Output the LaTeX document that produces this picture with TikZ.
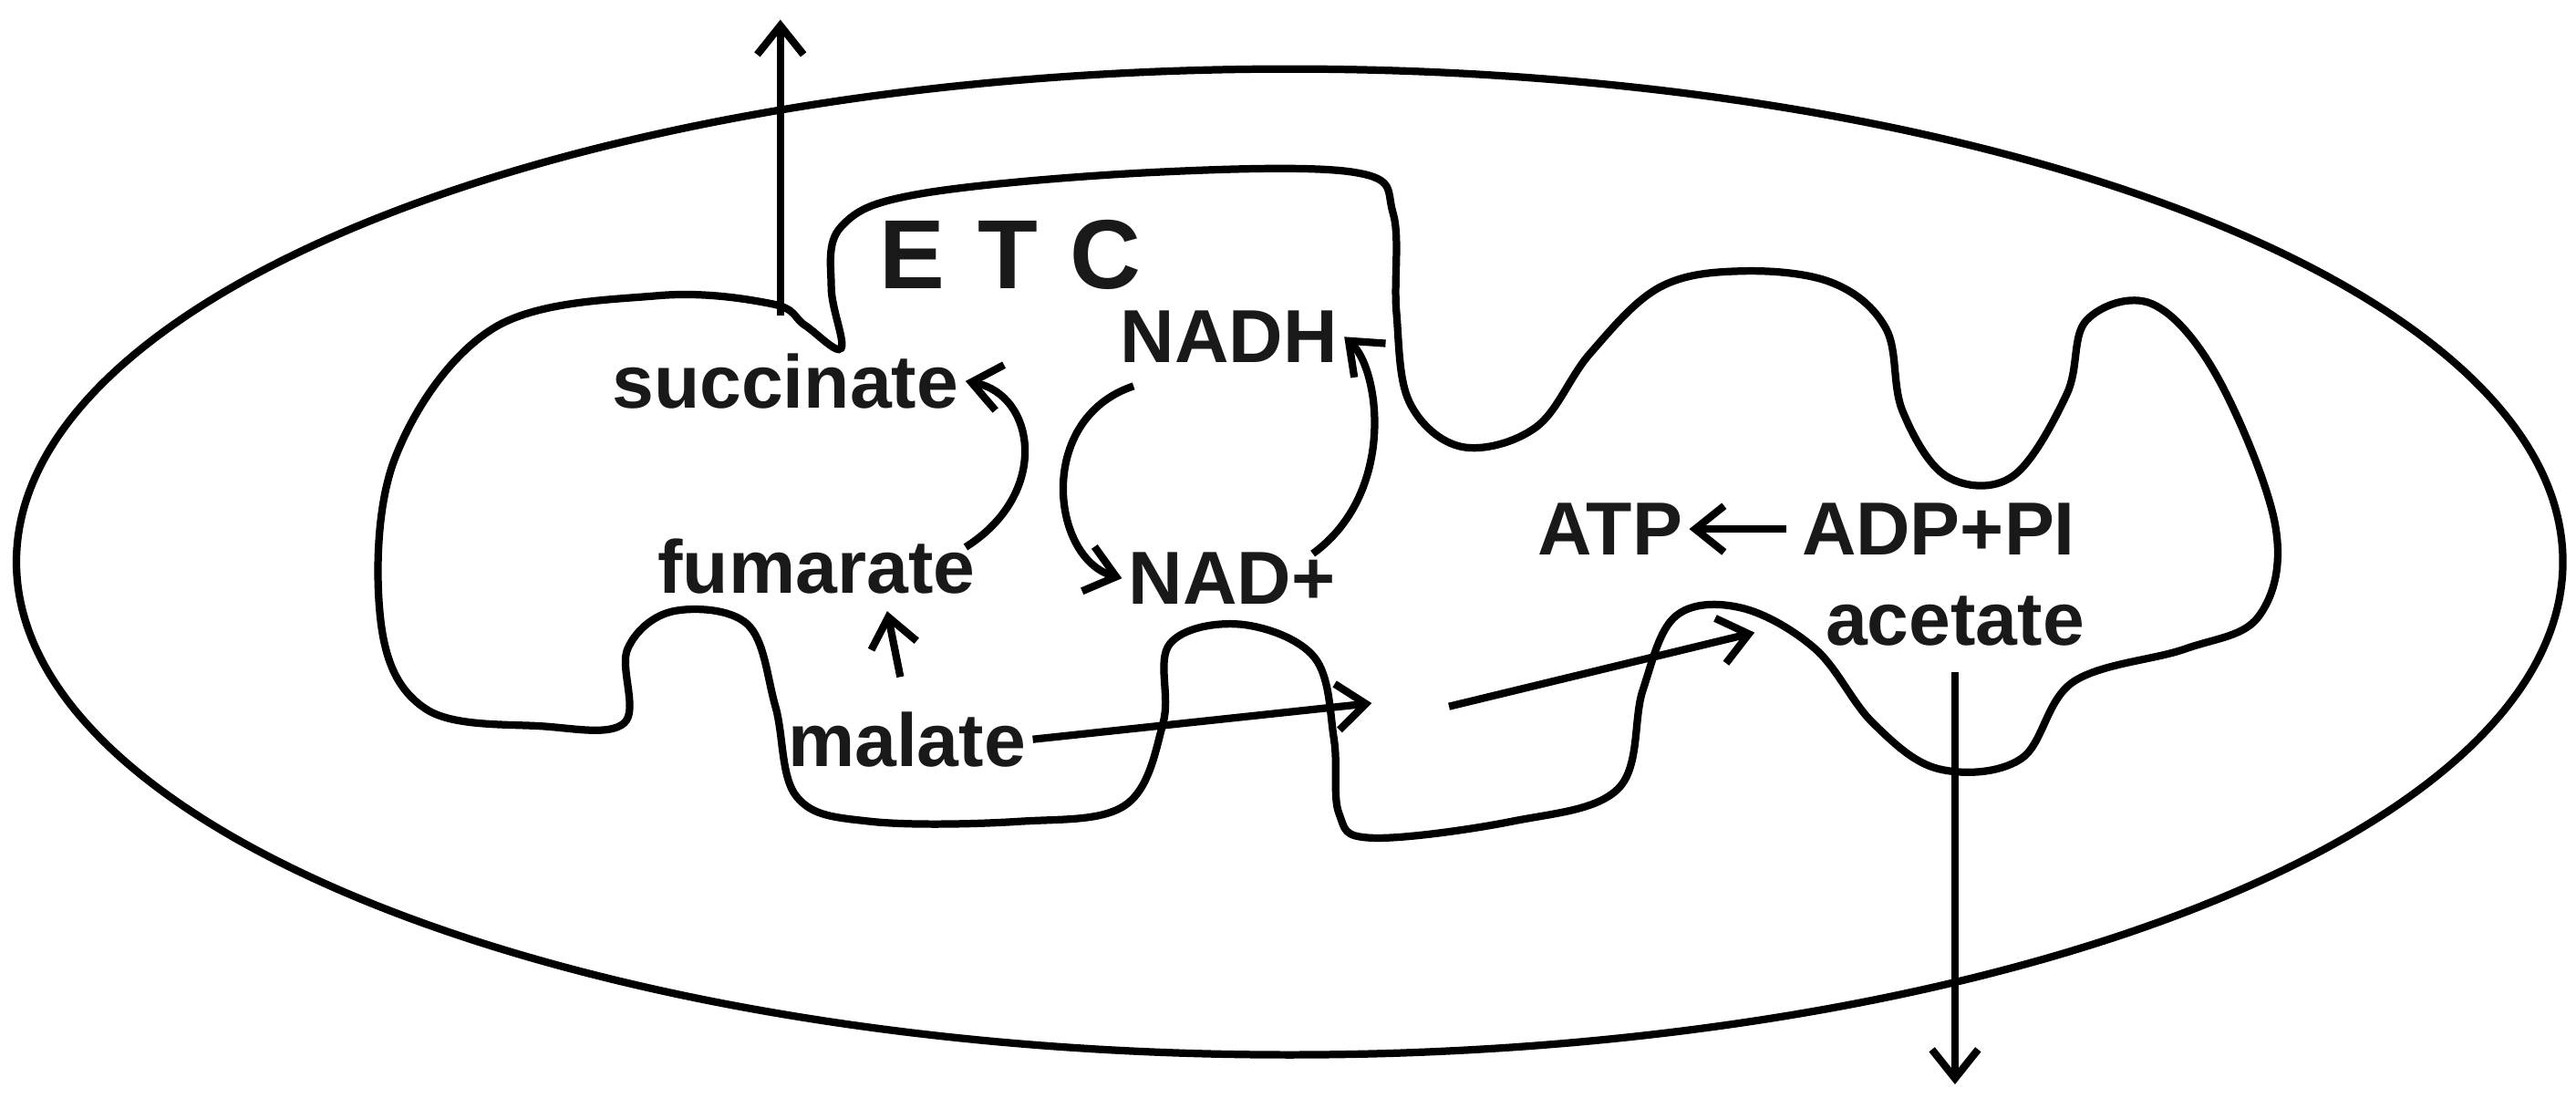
\documentclass[tikz,border=0pt]{standalone}
\usepackage{fontspec}
\setmainfont{Liberation Sans}
\usetikzlibrary{arrows.meta}
\begin{document}
\begin{tikzpicture}[x=0.01cm,y=-0.01cm,
  lab/.style={font=\bfseries\fontsize{13}{13}\selectfont, inner sep=1pt, text=black!90},
  arr/.style={line width=1.3pt,-{Straight Barb[length=5pt,width=8pt]}},
  ln/.style={line width=1.3pt}]
\useasboundingbox (0,0) rectangle (1568,668);
\draw[ln] (785,342) ellipse [x radius=775, y radius=300];
\draw[ln] plot[smooth cycle, tension=0.6] coordinates {
 (470,185) (400,180) (300,200) (240,280) (232,380) (260,432) (330,442) (380,440)
 (382,395) (410,372) (455,380) (472,430) (485,485) (530,500) (620,500) (685,490)
 (708,440) (712,392) (755,380) (800,400) (812,450) (815,495) (835,510) (920,500)
 (985,480) (1000,420) (1020,375) (1060,370) (1105,395) (1140,440) (1180,468)
 (1230,462) (1262,415) (1330,395) (1375,375) (1385,320) (1350,230) (1310,185)
 (1270,195) (1258,240) (1225,290) (1185,290) (1158,250) (1148,200) (1115,172)
 (1060,165) (1010,175) (968,215) (935,260) (890,272) (858,245) (850,190)
 (848,130) (825,105) (700,105) (560,118) (512,138) (506,175) (512,212) (490,198)};
\node[lab,font=\bfseries\fontsize{17}{17}\selectfont] (etc) at (615,155) {E\,\,T\,\,C};
\node[lab] (nadh) at (748,205) {NADH};
\node[lab] (succ) at (478,232) {succinate};
\node[lab] (fum) at (497,345) {fumarate};
\node[lab] (nad) at (750,352) {NAD+};
\node[lab] (mal) at (552,450) {malate};
\node[lab] (atp) at (980,322) {ATP};
\node[lab] (adp) at (1180,322) {ADP+PI};
\node[lab] (ace) at (1190,378) {acetate};
\coordinate (top) at (475,12);
\coordinate (bot) at (1190,660);
\coordinate (m1) at (835,428);
\coordinate (m2) at (882,430);
\coordinate (m3) at (1068,385);
\coordinate (fb) at (540,372);
\draw[arr] (475,192) -- (top);
\draw[arr] (ace.south) ++(0,12) -- (bot);
\draw[arr] (548,412) -- (fb);
\draw[arr] (mal.east) -- (m1);
\draw[arr] (m2) -- (m3);
\draw[arr] (adp.west) ++(-5,0) -- (atp.east);
\draw[arr] (fum.east) ++(-10,-12) .. controls (640,300) and (630,240) .. (succ.east);
\draw[arr] (nad.east) ++(-18,-15) .. controls (850,300) and (840,225) .. (nadh.east);
\draw[arr] (690,235) .. controls (630,255) and (640,340) .. (nad.west);
\end{tikzpicture}
\end{document}
